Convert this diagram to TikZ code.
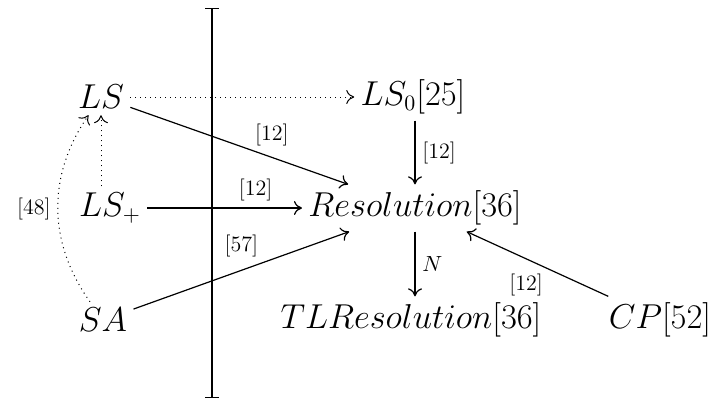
\documentclass[tikz,border=0pt]{standalone}
\usetikzlibrary{arrows.meta}
\begin{document}
\begin{tikzpicture}[x=0.5pt,y=-0.5pt,
  nd/.style={font=\fontsize{16}{19}\selectfont, inner sep=3pt},
  tip/.style={-{To[length=4pt,width=7pt]}},
  arr/.style={tip, line width=0.6pt},
  dot/.style={tip, dotted, line width=0.5pt},
  lab/.style={font=\fontsize{11}{13}\selectfont}]
\useasboundingbox (0,0) rectangle (712,407);
\node[nd] (LS) at (101,97) {$LS$};
\node[nd] (LS0) at (413,97) {$LS_0[25]$};
\node[nd] (LSp) at (110,208) {$LS_+$};
\node[nd] (Res) at (415,208) {$Resolution[36]$};
\node[nd] (SA) at (103,320) {$SA$};
\node[nd] (TL) at (411,320) {$TLResolution[36]$};
\node[nd] (CP) at (660,320) {$CP[52]$};
\coordinate (top) at (212,8);
\coordinate (bot) at (212,398);
\draw[{Bar[width=7pt]}-{Bar[width=7pt]}, line width=0.6pt] (top) -- (bot);
\draw[dot] (LS) -- (LS0);
\draw[arr] (LS) -- node[lab, pos=0.65, above=2pt]{[12]} (Res);
\draw[arr] (LS0.south -| Res.north) -- node[lab, right]{[12]} (Res.north);
\draw[arr] (LSp) -- node[lab, pos=0.7, above]{[12]} (Res);
\draw[arr] (SA) -- node[lab, pos=0.5, above=3pt]{[57]} (Res);
\draw[arr] (Res.south) -- node[lab, right]{$N$} (TL.north -| Res.south);
\draw[arr] (CP) -- node[lab, pos=0.58, below=4pt]{[12]} (Res);
\draw[dot] (LSp.north -| LS.south) -- (LS.south);
\draw[dot] (SA) to[bend left=35] node[lab, left]{[48]} (LS);
\end{tikzpicture}
\end{document}
